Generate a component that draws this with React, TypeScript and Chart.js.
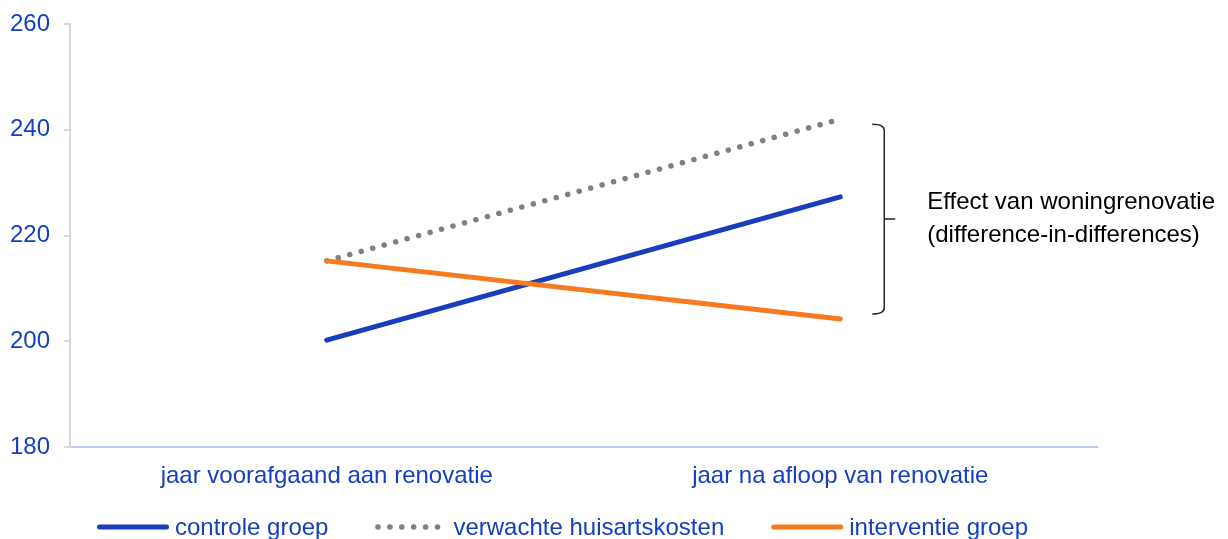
import React, { useEffect, useRef } from "react";
import { Chart, registerables } from "chart.js";

Chart.register(...registerables);

const categories = ["jaar voorafgaand aan renovatie", "jaar na afloop van renovatie"];
const controleGroep = [200.2, 227.3];
const verwachteKosten = [215.2, 242.0];
const interventieGroep = [215.2, 204.2];
const seriesLabels = ["controle groep", "verwachte huisartskosten", "interventie groep"];
const yTicks = { min: 180, max: 260, step: 20 };
const annotationLines = ["Effect van woningrenovatie", "(difference-in-differences)"];

const BLUE = "#1a3dbf";
const TEXT_BLUE = "#1440bf";
const ORANGE = "#f57a20";
const GRAY = "#808080";
const FONT = "'Liberation Sans', Arial, sans-serif";

const customPlugin = {
  id: "customDraw",
  afterDraw(chart: any) {
    const { ctx, chartArea, scales } = chart;
    const x = scales.x;
    const y = scales.y;
    const lastIdx = categories.length - 1;
    const endVals = chart.data.datasets.map((d: any) => d.data[lastIdx]);
    const topV = Math.max(...endVals);
    const botV = Math.min(...endVals);
    const bx = x.getPixelForValue(lastIdx) + 44;
    const top = y.getPixelForValue(topV) + 5;
    const bot = y.getPixelForValue(botV) - 5;
    const mid = (top + bot) / 2;
    ctx.save();
    ctx.strokeStyle = "#262626";
    ctx.lineWidth = 1.5;
    ctx.beginPath();
    ctx.moveTo(bx - 12, top);
    ctx.quadraticCurveTo(bx, top, bx, top + 6);
    ctx.lineTo(bx, bot - 6);
    ctx.quadraticCurveTo(bx, bot, bx - 12, bot);
    ctx.moveTo(bx, mid);
    ctx.lineTo(bx + 11, mid);
    ctx.stroke();
    ctx.fillStyle = "#000000";
    ctx.font = `24px ${FONT}`;
    ctx.textAlign = "left";
    ctx.textBaseline = "middle";
    ctx.fillText(annotationLines[0], bx + 43, mid - 17);
    ctx.fillText(annotationLines[1], bx + 43, mid + 16);

    // legend
    const ly = 528;
    let lx = chartArea.left + 27;
    chart.data.datasets.forEach((ds: any) => {
      ctx.beginPath();
      ctx.lineCap = "round";
      ctx.lineWidth = ds.borderDash ? 5.5 : 5;
      ctx.strokeStyle = ds.borderColor;
      ctx.setLineDash(ds.borderDash || []);
      ctx.moveTo(lx + 2.5, ly - 1);
      ctx.lineTo(lx + 69.5, ly - 1);
      ctx.stroke();
      ctx.setLineDash([]);
      lx += 78;
      ctx.fillStyle = TEXT_BLUE;
      ctx.fillText(ds.label, lx, ly);
      lx += ctx.measureText(ds.label).width + 47;
    });
    ctx.restore();
  },
};

export default function App() {
  const canvasRef = useRef<HTMLCanvasElement | null>(null);

  useEffect(() => {
    document.body.style.margin = "0";
    const canvas = canvasRef.current;
    if (!canvas) return;
    const chart = new Chart(canvas, {
      type: "line",
      data: {
        labels: categories,
        datasets: [
          {
            label: seriesLabels[0],
            data: controleGroep,
            borderColor: BLUE,
            backgroundColor: BLUE,
            borderWidth: 5,
            borderCapStyle: "round",
            pointRadius: 0,
            order: 2,
          },
          {
            label: seriesLabels[1],
            data: verwachteKosten,
            borderColor: GRAY,
            backgroundColor: GRAY,
            borderWidth: 5.5,
            borderCapStyle: "round",
            borderDash: [0.1, 11.8],
            pointRadius: 0,
            order: 3,
          },
          {
            label: seriesLabels[2],
            data: interventieGroep,
            borderColor: ORANGE,
            backgroundColor: ORANGE,
            borderWidth: 5,
            borderCapStyle: "round",
            pointRadius: 0,
            order: 1,
          },
        ],
      },
      options: {
        animation: false,
        responsive: true,
        maintainAspectRatio: false,
        layout: { padding: { top: 24, right: 131, bottom: 42, left: 0 } },
        plugins: {
          legend: { display: false },
          tooltip: { enabled: false },
        },
        scales: {
          x: {
            offset: true,
            grid: { display: true, drawOnChartArea: false, drawTicks: false },
            border: { color: "#b8cbf2", width: 2 },
            ticks: {
              color: TEXT_BLUE,
              font: { family: FONT, size: 24 },
              padding: 15,
              maxRotation: 0,
            },
            afterFit: (s: any) => {
              s.height = 50;
              s.paddingLeft = 0;
              s.paddingRight = 0;
            },
          },
          y: {
            min: yTicks.min,
            max: yTicks.max,
            grid: {
              display: true,
              drawOnChartArea: false,
              drawTicks: true,
              tickLength: 6,
              color: "#d9d9d9",
              lineWidth: 2,
            },
            border: { color: "#d9d9d9", width: 2 },
            ticks: {
              stepSize: yTicks.step,
              color: TEXT_BLUE,
              font: { family: FONT, size: 24 },
              padding: 14,
            },
            afterFit: (s: any) => {
              s.width = 70;
              s.paddingTop = 0;
              s.paddingBottom = 0;
            },
          },
        },
      },
      plugins: [customPlugin],
    });
    return () => chart.destroy();
  }, []);

  return (
    <div style={{ width: 1228, height: 539, position: "relative" }}>
      <canvas ref={canvasRef} />
    </div>
  );
}
